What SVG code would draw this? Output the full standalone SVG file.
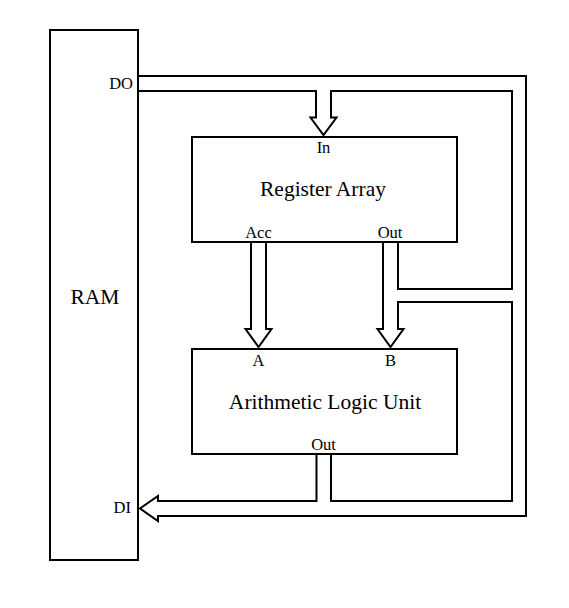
<svg xmlns="http://www.w3.org/2000/svg" width="569" height="608" viewBox="0 0 569 608">
<style>
.box{fill:#fff;stroke:#000;stroke-width:2}
.bus{fill:none;stroke:#000;stroke-width:2;stroke-linejoin:miter}
text{font-family:"Liberation Serif","Times New Roman",serif;fill:#000}
.big{font-size:21.5px;text-anchor:middle}
.sm{font-size:16.5px;text-anchor:middle}
.end{font-size:16.5px;text-anchor:end}
</style>
<rect width="569" height="608" fill="#fff"/>
<g id="ram">
<rect class="box" x="50" y="30" width="88" height="530"/>
<text x="95" y="304" class="big">RAM</text>
<text x="133" y="89" class="end">DO</text>
<text x="131" y="513" class="end">DI</text>
</g>
<g id="register-array">
<rect class="box" x="192" y="137" width="265" height="105"/>
<text x="323" y="196" class="big">Register Array</text>
<text x="323.5" y="153" class="sm">In</text>
<text x="258.5" y="238" class="sm">Acc</text>
<text x="390" y="238" class="sm">Out</text>
</g>
<g id="alu">
<rect class="box" x="192" y="349" width="265" height="105"/>
<text x="325" y="409" class="big">Arithmetic Logic Unit</text>
<text x="258.5" y="365.5" class="sm">A</text>
<text x="390.5" y="365.5" class="sm">B</text>
<text x="323.5" y="450" class="sm">Out</text>
</g>
<g id="connectors">
<path class="bus" d="M138,76 H526 V516 H158 V521 L140,508.5 L158,496 V501 H316.5 V455"/>
<path class="bus" d="M331,455 V501 H512 V302 H398 V329 H403.5 L390.5,347 L377.5,329 H383 V243"/>
<path class="bus" d="M398,243 V289 H512 V91 H331 V117.5 H336.5 L323.5,135 L310.5,117.5 H316 V91 H139"/>
<path class="bus" d="M251,243 V329 H245.5 L258.5,347 L271.5,329 H266 V243"/>
</g>
</svg>
